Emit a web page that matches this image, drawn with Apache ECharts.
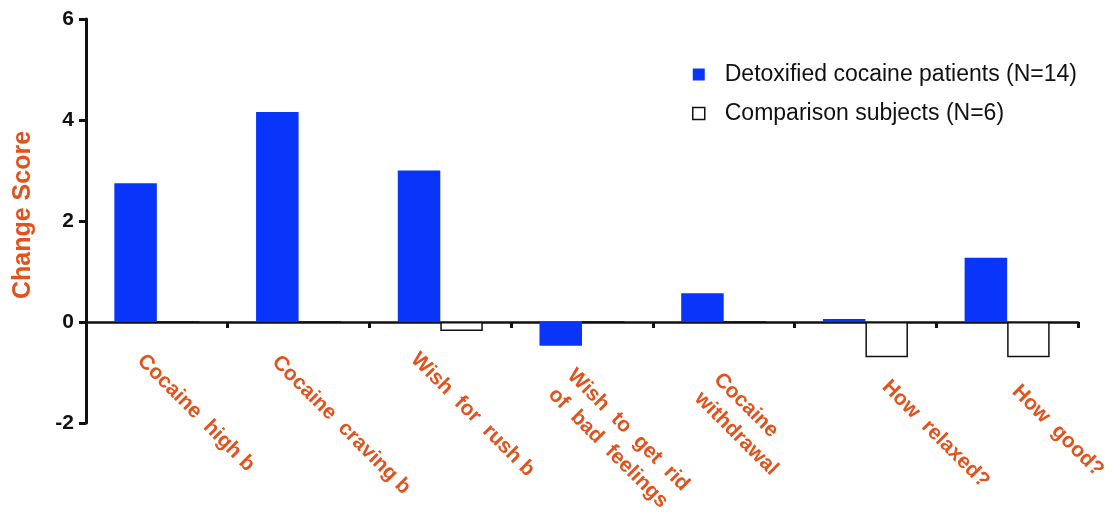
<!DOCTYPE html>
<html><head><meta charset="utf-8">
<script src="https://cdn.jsdelivr.net/npm/echarts@6/dist/echarts.min.js"></script>
<style>html,body{margin:0;padding:0;background:#fff}#c{width:1113px;height:523px}</style>
</head><body><div id="c"></div>
<script>
const categories = ['Cocaine  high b', 'Cocaine  craving b', 'Wish  for  rush b', 'Wish  to  get  rid\nof  bad  feelings', 'Cocaine\nwithdrawal', 'How  relaxed?', 'How  good?'];
const seriesNames = ['Detoxified cocaine patients (N=14)', 'Comparison subjects (N=6)'];
const patients = [2.75, 4.16, 3.0, -0.47, 0.57, 0.06, 1.27];
const comparison = [0, 0, -0.18, 0, 0, -0.7, -0.7];
const yTicks = { min: -2, max: 6, interval: 2 };
const yName = 'Change Score';

// per-label nudges in the rotated label frame (layout only): [spacer height, left padding]
const labelPads = [[62, 8], [74, 4], [74, 0], [103, 22], [102, 28], [48, 52], [71, 47]];

const orange = '#e2521c';
const blue = '#0935fb';
const rich = { t: { fontFamily: 'Liberation Sans', fontWeight: 'bold', fontSize: 21, color: orange, lineHeight: 27 } };
labelPads.forEach((p, i) => { rich['s' + i] = { fontSize: 1, lineHeight: p[0] }; });

const chart = echarts.init(document.getElementById('c'));
chart.setOption({
  animation: false,
  backgroundColor: '#fff',
  grid: { left: 86, right: 35, top: 19, bottom: 100, containLabel: false, outerBoundsMode: 'none' },
  legend: {
    orient: 'vertical', left: 687, top: 58, itemWidth: 12, itemHeight: 12, itemGap: 16,
    textStyle: { fontFamily: 'Liberation Sans', fontSize: 23, color: '#111', padding: [0, 0, 0, 15] },
    data: [
      { name: seriesNames[0], icon: 'rect' },
      { name: seriesNames[1], icon: 'rect', itemStyle: { color: '#fff', borderColor: '#111', borderWidth: 1.5 } }
    ]
  },
  xAxis: {
    type: 'category',
    data: categories.map((c, i) => ({ value: c, textStyle: { padding: [0, 0, 0, labelPads[i][1]] } })),
    axisLine: { onZero: true, lineStyle: { color: '#111', width: 2.5 } },
    axisTick: { show: true, interval: 0, length: 6, lineStyle: { color: '#111', width: 3 } },
    axisLabel: {
      interval: 0, rotate: -45, margin: -93,
      fontFamily: 'Liberation Sans', fontWeight: 'bold', fontSize: 21, color: orange, lineHeight: 27,
      rich: rich,
      formatter: (v, i) => '{s' + i + '| }\n' + v.split('\n').map(l => '{t|' + l + '}').join('\n')
    }
  },
  yAxis: {
    type: 'value', min: yTicks.min, max: yTicks.max, interval: yTicks.interval,
    name: yName, nameLocation: 'middle', nameRotate: 90, nameGap: 50,
    nameTextStyle: { fontFamily: 'Liberation Sans', fontWeight: 'bold', fontSize: 25, color: orange, padding: [0, 0, 0, 12] },
    splitLine: { show: false },
    axisLine: { show: true, lineStyle: { color: '#111', width: 3 } },
    axisTick: { show: true, length: 7, lineStyle: { color: '#111', width: 3 } },
    axisLabel: { margin: 12, fontFamily: 'Liberation Sans', fontWeight: 'bold', fontSize: 21, color: '#111' }
  },
  series: [
    { name: seriesNames[0], type: 'bar', data: patients, barGap: '0%', barCategoryGap: '40%',
      itemStyle: { color: blue } },
    { name: seriesNames[1], type: 'bar', data: comparison,
      itemStyle: { color: '#fff', borderColor: '#111', borderWidth: 1.5 } }
  ]
});
</script></body></html>
